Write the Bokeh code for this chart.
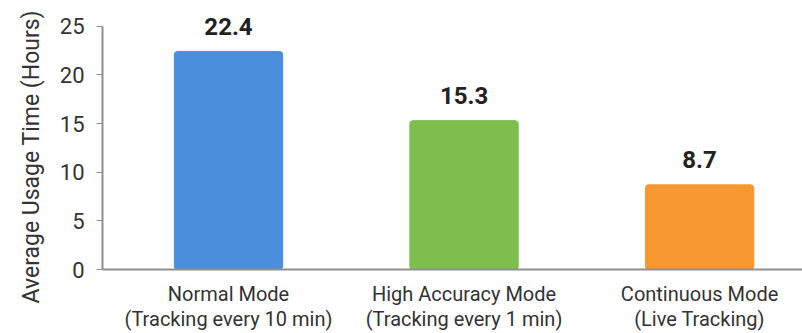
from bokeh.plotting import figure
from bokeh.models import Range1d, FixedTicker, ColumnDataSource, Title
from bokeh.core.properties import value
from bokeh.embed import file_html
from bokeh.resources import INLINE

categories = ["Normal Mode\n(Tracking every 10 min)",
              "High Accuracy Mode\n(Tracking every 1 min)",
              "Continuous Mode\n(Live Tracking)"]
hours = [22.4, 15.3, 8.7]
value_labels = ["22.4", "15.3", "8.7"]
colors = ["#4A8FDB", "#7DBE4F", "#F7972F"]
y_ticks = [0, 5, 10, 15, 20, 25]
y_title = "Average Usage Time (Hours)"

idx = list(range(len(categories)))
src = ColumnDataSource(dict(x=idx, top=hours, color=colors, label=value_labels))

FONT = "Roboto"

p = figure(width=802, height=333, output_backend="svg", toolbar_location=None,
           x_range=Range1d(-0.535, 2.437), y_range=Range1d(0, 27.65),
           min_border_left=102, min_border_right=0, min_border_top=0,
           min_border_bottom=62)
p.outline_line_color = None
p.background_fill_color = "white"
p.border_fill_color = "white"
p.xgrid.visible = False
p.ygrid.visible = False

p.vbar(x="x", top="top", width=0.46, bottom=0, color="color", source=src,
       line_color="color", border_radius=3)
p.text(x="x", y="top", text="label", source=src, text_align="center",
       text_baseline="alphabetic", y_offset=-25, text_font=value(FONT),
       text_font_style="bold", text_font_size="24px", text_color="#222222")

# x axis
xa = p.xaxis[0]
xa.ticker = FixedTicker(ticks=idx)
xa.major_label_overrides = {i: c for i, c in zip(idx, categories)}
xa.major_tick_out = 0
xa.major_tick_in = 0
xa.minor_tick_out = 0
xa.minor_tick_in = 0
xa.major_label_standoff = 12
xa.major_label_text_font = FONT
xa.major_label_text_font_size = "20px"
xa.major_label_text_line_height = 1.05
xa.major_label_text_color = "#333333"
xa.axis_line_color = "#8f8f8f"
xa.axis_line_width = 2

# y axis
ya = p.yaxis[0]
ya.ticker = FixedTicker(ticks=y_ticks)
ya.bounds = (0, 25)
ya.major_tick_out = 6
ya.major_tick_in = 0
ya.minor_tick_out = 0
ya.minor_tick_in = 0
ya.major_tick_line_color = "#8f8f8f"
ya.major_label_standoff = 12
ya.major_label_text_font = FONT
ya.major_label_text_font_size = "22px"
ya.major_label_text_color = "#333333"
ya.axis_line_color = "#8f8f8f"
ya.axis_line_width = 2

ytitle = Title(text=y_title, align="left", offset=-34, standoff=24,
               text_font=FONT, text_font_style="normal",
               text_font_size="23px", text_color="#333333")
p.add_layout(ytitle, "left")

open("out.html", "w").write(file_html(p, INLINE))
